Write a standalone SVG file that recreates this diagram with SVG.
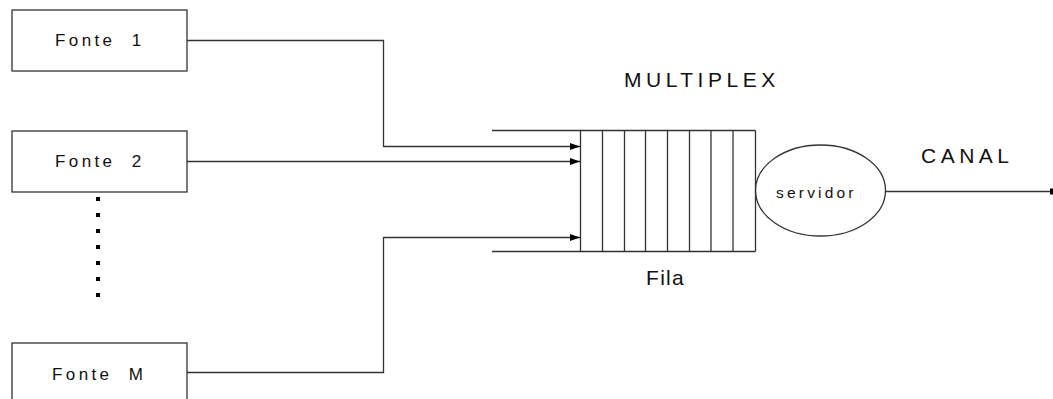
<svg xmlns="http://www.w3.org/2000/svg" width="1053" height="399" viewBox="0 0 1053 399">
  <style>
    .box { fill: #ffffff; stroke: #333333; stroke-width: 1.3; }
    .line { fill: none; stroke: #333333; stroke-width: 1.3; }
    .lbl { font-family: "Liberation Sans", Arial, sans-serif; fill: #111111; white-space: pre; }
    .src { font-size: 17px; letter-spacing: 3.4px; }
    .big { font-size: 21px; letter-spacing: 4.5px; }
    .dot { fill: #000000; }
  </style>
  <defs>
    <marker id="arrow" markerWidth="10" markerHeight="7" refX="10" refY="3.5" orient="auto" markerUnits="userSpaceOnUse">
      <path d="M0,0 L10,3.5 L0,7 Z" fill="#000000"/>
    </marker>
  </defs>

  <rect width="1053" height="399" fill="#ffffff"/>

  <!-- sources -->
  <g id="fonte1">
    <rect class="box" x="12" y="10" width="175" height="61"/>
    <text class="lbl src" x="55" y="45.5" xml:space="preserve">Fonte  1</text>
  </g>
  <g id="fonte2">
    <rect class="box" x="12" y="131" width="175" height="61"/>
    <text class="lbl src" x="55" y="166.5" xml:space="preserve">Fonte  2</text>
  </g>
  <g id="fonteM">
    <rect class="box" x="12" y="343" width="175" height="70"/>
    <text class="lbl src" x="52" y="380" xml:space="preserve">Fonte  M</text>
  </g>

  <!-- ellipsis between sources -->
  <g id="ellipsis">
    <rect class="dot" x="96" y="197" width="4" height="4"/>
    <rect class="dot" x="96" y="213" width="4" height="4"/>
    <rect class="dot" x="96" y="229" width="4" height="4"/>
    <rect class="dot" x="96" y="245" width="4" height="4"/>
    <rect class="dot" x="96" y="261" width="4" height="4"/>
    <rect class="dot" x="96" y="277" width="4" height="4"/>
    <rect class="dot" x="96" y="293" width="4" height="4"/>
  </g>

  <!-- queue (Fila) -->
  <g id="fila">
    <line class="line" x1="492" y1="130.5" x2="755.5" y2="130.5"/>
    <line class="line" x1="492" y1="251.5" x2="755.5" y2="251.5"/>
    <line class="line" x1="580.5" y1="130.5" x2="580.5" y2="251.5"/>
    <line class="line" x1="602.5" y1="130.5" x2="602.5" y2="251.5"/>
    <line class="line" x1="624.5" y1="130.5" x2="624.5" y2="251.5"/>
    <line class="line" x1="645.5" y1="130.5" x2="645.5" y2="251.5"/>
    <line class="line" x1="667.5" y1="130.5" x2="667.5" y2="251.5"/>
    <line class="line" x1="689.5" y1="130.5" x2="689.5" y2="251.5"/>
    <line class="line" x1="711" y1="130.5" x2="711" y2="251.5"/>
    <line class="line" x1="733" y1="130.5" x2="733" y2="251.5"/>
    <line class="line" x1="755.5" y1="130.5" x2="755.5" y2="251.5"/>
    <text class="lbl" x="646" y="285" font-size="21" letter-spacing="1.3">Fila</text>
  </g>

  <!-- server -->
  <g id="servidor">
    <ellipse class="line" cx="820.5" cy="190.5" rx="65" ry="45.5"/>
    <text class="lbl" x="776" y="198" font-size="15.5" letter-spacing="3.2">servidor</text>
  </g>

  <!-- labels -->
  <g id="labels">
    <text class="lbl big" x="624" y="87">MULTIPLEX</text>
    <text class="lbl big" x="921" y="163" letter-spacing="5">CANAL</text>
  </g>

  <!-- connectors -->
  <g id="connectors">
    <polyline class="line" points="187,40.5 383.5,40.5 383.5,146.5 580,146.5" marker-end="url(#arrow)"/>
    <polyline class="line" points="187,161.5 580,161.5" marker-end="url(#arrow)"/>
    <polyline class="line" points="187,372.5 383.5,372.5 383.5,237.5 580,237.5" marker-end="url(#arrow)"/>
    <polyline class="line" points="885.5,191.5 1053,191.5"/>
    <rect x="1050" y="188.5" width="3" height="6" fill="#000000"/>
  </g>
</svg>
